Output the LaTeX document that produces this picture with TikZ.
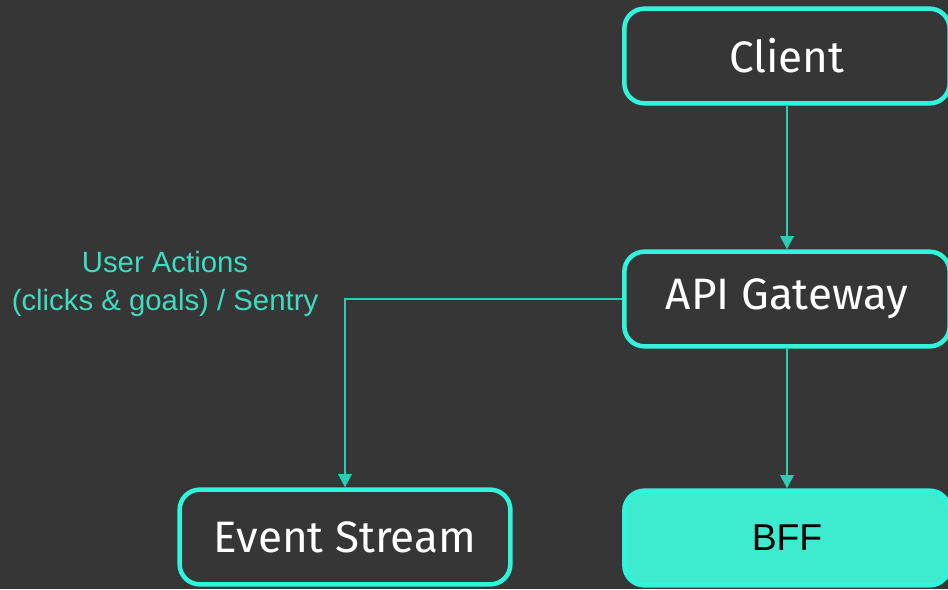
\documentclass[tikz,border=0pt]{standalone}
\usepackage{fontspec}
\setmainfont{Fira Sans}
\newfontfamily\labelfont{Liberation Sans}
\usetikzlibrary{arrows.meta}
\definecolor{bg}{HTML}{363636}
\definecolor{edgeaqua}{HTML}{2EF5DC}
\definecolor{wireaqua}{HTML}{2DCCB5}
\definecolor{fillaqua}{HTML}{3DEBCF}
\definecolor{labelaqua}{HTML}{3EDCC0}
\newcommand{\dropby}[2]{\raisebox{-#1}{#2}}
\tikzset{
  box/.style={draw=edgeaqua, line width=3.4pt, rounded corners=15pt,
    minimum width=244pt, minimum height=71pt, inner sep=0pt,
    text=white, font=\fontsize{33}{40}\selectfont},
  hotbox/.style={box, fill=fillaqua, text=black,
    font=\labelfont\fontsize{28}{32}\selectfont},
  wire/.style={draw=wireaqua, line width=1.8pt,
    -{Triangle[length=10pt,width=10pt]}},
  note/.style={text=labelaqua, align=center,
    font=\labelfont\fontsize{22}{28}\selectfont}
}
\begin{document}
\begin{tikzpicture}[x=0.75pt,y=-0.75pt]
  \fill[bg] (0,0) rectangle (948,589);
  \useasboundingbox (0,0) rectangle (948,589);
  \node[box] (client) at (787,56) {Client};
  \node[box] (gw) at (787,299) {\dropby{5pt}{API Gateway}};
  \node[hotbox] (bff) at (787,538) {\dropby{3pt}{BFF}};
  \node[box, minimum width=248pt] (es) at (345,537) {\dropby{4pt}{Event Stream}};
  \node[note] (lbl) at (165,284) {User Actions\\(clicks \& goals) / Sentry};
  \draw[wire] (client.south) -- (gw.north);
  \draw[wire] (gw.south) -- (bff.north);
  \draw[wire] (gw.west) -| (es.north);
\end{tikzpicture}
\end{document}
